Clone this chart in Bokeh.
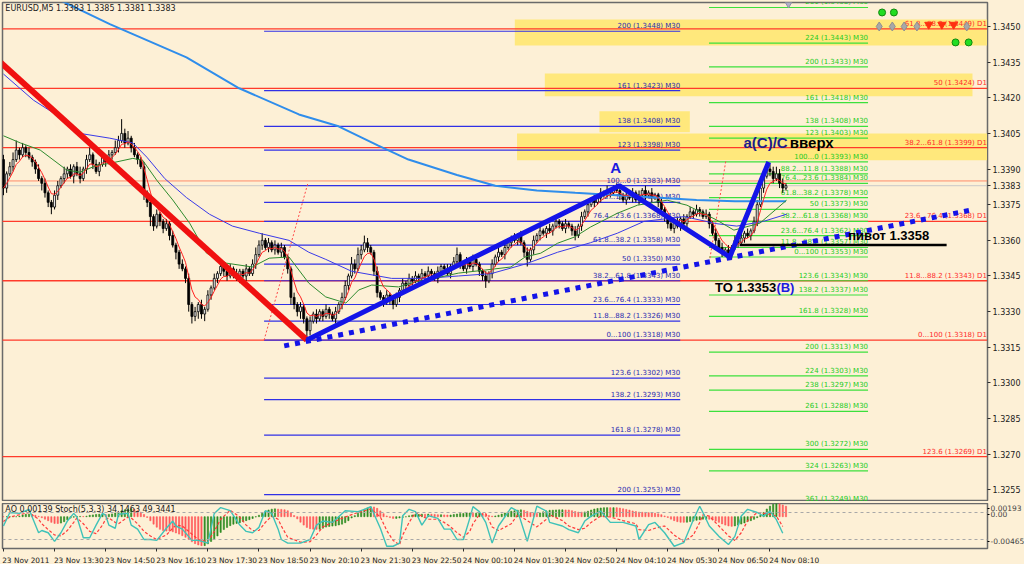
import numpy as np
import pandas as pd
from bokeh.plotting import figure
from bokeh.layouts import column
from bokeh.models import Range1d, FixedTicker, PrintfTickFormatter, Label, Span, ColumnDataSource
from bokeh.embed import file_html
from bokeh.resources import INLINE
from bokeh.core.properties import value

# ---------------- data ----------------
BASE = 1.3300
PIP = 0.0001

first_open_pips = 94
close_pips = [
    82, 88, 91, 94, 98, 96, 99, 97, 95, 93,
    90, 86, 84, 80, 76, 74, 79, 83, 86, 88,
    90, 87, 91, 88, 86, 90, 94, 96, 92, 89,
    92, 95, 93, 96, 97, 99, 102, 105, 101, 103,
    99, 96, 94, 91, 80, 76, 70, 66, 71, 68,
    65, 67, 62, 58, 55, 50, 48, 44, 33, 28,
    30, 33, 29, 31, 37, 40, 44, 46, 49, 47,
    45, 48, 46, 44, 47, 45, 48, 46, 50, 54,
    58, 60, 57, 59, 56, 58, 55, 57, 53, 48,
    36, 33, 30, 32, 27, 22, 26, 29, 27, 30,
    28, 31, 29, 27, 30, 33, 36, 41, 45, 50,
    48, 54, 56, 59, 57, 55, 47, 38, 36, 34,
    37, 35, 33, 36, 39, 42, 41, 44, 43, 45,
    44, 46, 45, 47, 46, 44, 47, 49, 48, 46,
    49, 51, 54, 50, 48, 51, 49, 52, 50, 47,
    45, 43, 46, 50, 53, 55, 54, 57, 59, 61,
    60, 62, 59, 55, 52, 56, 60, 62, 64, 63,
    65, 64, 66, 68, 67, 65, 67, 66, 64, 62,
    66, 70, 72, 75, 77, 76, 78, 80, 79, 81,
    80, 82, 81, 79, 77, 79, 78, 80, 77, 79,
    81, 79, 80, 78, 79, 76, 73, 70, 67, 65,
    68, 66, 69, 67, 70, 72, 71, 73, 72, 70,
    71, 67, 63, 60, 57, 55, 56, 54, 57, 60,
    59, 61, 63, 62, 64, 68, 75, 82, 87, 90,
    89, 86, 88, 84, 82, 83,
]
wick_up = [
    2, 1, 2, 3, 4, 1, 2, 1, 2, 1,
    1, 2, 1, 2, 1, 1, 2, 2, 1, 3,
    1, 2, 1, 2, 3, 1, 2, 3, 1, 2,
    1, 2, 1, 2, 1, 3, 2, 6, 2, 3,
    1, 2, 1, 1, 2, 1, 2, 1, 2, 1,
    1, 2, 1, 2, 1, 1, 2, 1, 2, 1,
    2, 1, 2, 1, 2, 1, 2, 1, 2, 1,
    1, 2, 1, 2, 1, 1, 2, 1, 2, 3,
    2, 3, 1, 2, 1, 2, 1, 2, 1, 1,
    1, 2, 1, 2, 1, 1, 2, 1, 2, 1,
    1, 2, 1, 1, 2, 1, 2, 2, 1, 3,
    2, 3, 2, 3, 2, 1, 1, 2, 1, 1,
    2, 1, 1, 2, 1, 2, 1, 2, 1, 2,
    1, 2, 1, 2, 1, 1, 2, 1, 1, 2,
    1, 2, 3, 1, 1, 2, 1, 2, 1, 1,
    1, 2, 1, 2, 1, 2, 1, 2, 2, 1,
    2, 1, 2, 1, 2, 1, 2, 1, 2, 1,
    1, 2, 1, 2, 1, 1, 2, 1, 1, 2,
    1, 2, 1, 2, 1, 2, 1, 2, 1, 2,
    1, 1, 2, 1, 1, 2, 1, 2, 1, 2,
    1, 2, 1, 2, 1, 1, 2, 1, 1, 2,
    1, 2, 1, 2, 1, 2, 1, 2, 1, 1,
    2, 1, 1, 2, 1, 2, 1, 2, 1, 2,
    1, 2, 1, 2, 1, 2, 2, 3, 2, 3,
    2, 2, 3, 2, 2, 1,
]
wick_dn = [
    3, 2, 1, 2, 1, 2, 1, 2, 1, 2,
    2, 1, 3, 2, 2, 3, 1, 2, 1, 2,
    2, 1, 3, 1, 2, 1, 2, 1, 2, 1,
    2, 1, 2, 1, 2, 1, 2, 1, 2, 1,
    2, 1, 2, 1, 3, 2, 4, 2, 1, 2,
    2, 1, 2, 1, 3, 2, 1, 2, 3, 3,
    2, 3, 2, 3, 1, 2, 1, 2, 1, 2,
    2, 1, 2, 1, 2, 1, 2, 1, 1, 2,
    1, 2, 1, 2, 1, 2, 1, 2, 1, 2,
    3, 2, 2, 3, 2, 4, 2, 1, 2, 1,
    2, 1, 2, 1, 2, 1, 2, 1, 2, 1,
    2, 1, 2, 1, 2, 1, 2, 2, 1, 2,
    1, 2, 2, 1, 2, 1, 2, 1, 2, 1,
    2, 1, 2, 1, 2, 1, 2, 1, 2, 1,
    2, 1, 1, 2, 1, 2, 1, 2, 1, 2,
    2, 3, 1, 2, 1, 2, 1, 2, 1, 2,
    1, 2, 1, 2, 3, 1, 2, 1, 2, 1,
    2, 1, 2, 1, 2, 1, 2, 1, 2, 2,
    1, 2, 1, 2, 1, 2, 1, 2, 1, 1,
    2, 1, 1, 2, 1, 2, 1, 2, 1, 2,
    1, 2, 1, 2, 1, 2, 1, 2, 2, 1,
    2, 1, 2, 1, 2, 1, 2, 1, 2, 1,
    1, 2, 1, 2, 1, 2, 1, 1, 2, 1,
    2, 1, 2, 1, 2, 1, 2, 1, 2, 1,
    2, 2, 1, 2, 2, 1,
]

# moving averages (bar index, pips above BASE)
ma_lblue_bars = [14.7, 33.3, 57.3, 73.8, 92.5, 104.9, 117.2, 126.8, 142, 154, 167, 179, 192, 204, 217, 229, 245]
ma_lblue_pips = [163, 151, 137, 124, 113, 108, 100, 94, 87.5, 83, 81, 80, 79, 78, 77, 76.5, 76.5]
ma_blue_bars = [0, 9.4, 18.7, 24, 33.3, 40.5, 44.9, 50.5, 57.3, 64.5, 71.7, 80.1, 89.4, 95.6, 100.9, 109,
                121.5, 132.1, 142.4, 152.7, 163.3, 173.5, 183.8, 192.2, 200.6, 213.1, 223.4, 229.6, 238, 245.2]
ma_blue_pips = [130, 119, 111, 105, 103, 101, 95, 86, 78, 71, 66, 63, 60, 55, 52, 47,
                44, 44, 45, 46, 50, 55, 59, 63, 68, 70, 67, 66, 68, 71]
ma_green_bars = [0, 5.3, 11.5, 19.9, 24, 29.3, 33.3, 40.5, 43.6, 48, 53, 58.3, 63.6, 69.8, 77.9, 83.2, 89.4,
                 95.6, 100.9, 107.2, 111.2, 115.3, 123.7, 129, 135.2, 142.4, 150.8, 158.9, 163.3, 168.2,
                 173.5, 178.8, 183.8, 192.2, 198.5, 207.8, 214, 223.4, 228.7, 236.8, 245.2]
ma_green_pips = [104, 101, 98, 89.5, 88.7, 91.6, 92.4, 94.5, 93.7, 85.3, 77, 67.2, 54.6, 50.4, 48.8, 52.5, 53,
                 42, 36.2, 33.6, 39.1, 41.2, 40.4, 42.5, 44.1, 46.2, 47.5, 48.8, 53, 54.6,
                 58.8, 61.4, 65.6, 71.4, 74.8, 76.9, 74.8, 68.5, 64.3, 67.2, 76.9]

# stochastic
stoch_bars = [0, 2, 5, 8, 11, 12, 14, 16, 18, 20, 22, 23, 25, 27, 29, 31, 32, 33, 35, 36, 39, 40, 42, 44, 46, 48,
              51, 53, 54, 56, 59, 61, 64, 66, 68, 71, 74, 76, 78, 80, 82, 84, 86, 87, 89, 93, 96, 98, 100, 103,
              107, 111, 113, 115, 118, 120, 122, 124, 125, 127, 129, 131, 133, 136, 138, 140, 142, 144, 146, 147,
              149, 151, 153, 155, 159, 161, 164, 167, 170, 171, 175, 177, 180, 182, 184, 187, 190, 194, 198, 199,
              202, 204, 207, 210, 213, 216, 218, 219, 221, 224, 227, 229, 231, 233, 236, 238, 240, 242, 244]
stoch_main = [50, 80, 78, 87, 35, 40, 35, 16, 35, 61, 78, 70, 24, 24, 52, 78, 74, 52, 45, 76, 78, 52, 43, 20, 20, 18,
              45, 61, 50, 43, 18, 18, 12, 78, 91, 84, 52, 38, 35, 47, 84, 78, 43, 20, 12, 12, 20, 52, 61, 58,
              84, 82, 87, 93, 45, 5, 5, 12, 73, 87, 82, 52, 73, 67, 43, 43, 20, 20, 67, 93,
              82, 58, 12, 50, 91, 83, 16, 94, 83, 58, 50, 42, 35, 61, 72, 83, 58, 58, 50, 20,
              53, 58, 35, 5, 13, 64, 94, 80, 50, 27, 9, 27, 72, 87, 80, 72, 83, 64, 34]
stoch_signal = [60, 70, 75, 80, 65, 55, 42, 30, 28, 40, 58, 68, 55, 38, 33, 52, 65, 68, 58, 55, 70, 68, 55, 38, 28, 20,
                30, 45, 52, 50, 32, 20, 15, 38, 65, 85, 70, 52, 40, 40, 58, 72, 65, 50, 25, 14, 15, 30, 48, 58,
                70, 80, 84, 88, 70, 40, 18, 8, 30, 58, 80, 72, 65, 65, 58, 48, 35, 25, 38, 55,
                75, 78, 48, 40, 55, 75, 62, 48, 65, 75, 62, 50, 42, 45, 58, 72, 70, 62, 55, 42,
                40, 45, 50, 30, 15, 30, 58, 75, 72, 50, 28, 18, 35, 62, 80, 78, 76, 72, 49]

# Fibonacci levels
d1_levels = [1.3449, 1.3424, 1.3399, 1.3368, 1.3343, 1.3318, 1.3269]
d1_labels = ["61.8...88.2 (1.3449) D1", "50 (1.3424) D1", "38.2...61.8 (1.3399) D1", "23.6...76.4 (1.3368) D1",
             "11.8...88.2 (1.3343) D1", "0...100 (1.3318) D1", "123.6 (1.3269) D1"]
blue_levels = [1.3448, 1.3423, 1.3408, 1.3398, 1.3383, 1.3376, 1.3368, 1.3358, 1.3350, 1.3343, 1.3333, 1.3326,
               1.3318, 1.3302, 1.3293, 1.3278, 1.3253]
blue_labels = ["200 (1.3448) M30", "161 (1.3423) M30", "138 (1.3408) M30", "123 (1.3398) M30",
               "100...0 (1.3383) M30", "88.2...11.8 (1.3376) M30", "76.4...23.6 (1.3368) M30",
               "61.8...38.2 (1.3358) M30", "50 (1.3350) M30", "38.2...61.8 (1.3343) M30",
               "23.6...76.4 (1.3333) M30", "11.8...88.2 (1.3326) M30", "0...100 (1.3318) M30",
               "123.6 (1.3302) M30", "138.2 (1.3293) M30", "161.8 (1.3278) M30", "200 (1.3253) M30"]
green_levels = [1.3458, 1.3443, 1.3433, 1.3418, 1.3408, 1.3403, 1.3393, 1.3388, 1.3384, 1.3378, 1.3373, 1.3368,
                1.3362, 1.3357, 1.3353, 1.3343, 1.3337, 1.3328, 1.3313, 1.3303, 1.3297, 1.3288, 1.3272, 1.3263, 1.3249]
green_labels = ["261 (1.3458) M30", "224 (1.3443) M30", "200 (1.3433) M30", "161 (1.3418) M30",
                "138 (1.3408) M30", "123 (1.3403) M30", "100...0 (1.3393) M30", "88.2...11.8 (1.3388) M30",
                "76.4...23.6 (1.3384) M30", "61.8...38.2 (1.3378) M30", "50 (1.3373) M30",
                "38.2...61.8 (1.3368) M30", "23.6...76.4 (1.3362) M30", "11.8...88.2 (1.3357) M30",
                "0...100 (1.3353) M30", "123.6 (1.3343) M30", "138.2 (1.3337) M30", "161.8 (1.3328) M30",
                "200 (1.3313) M30", "224 (1.3303) M30", "238 (1.3297) M30", "261 (1.3288) M30",
                "300 (1.3272) M30", "324 (1.3263) M30", "361 (1.3249) M30"]
blue_span = (81.6, 211.9)
green_span = (220.9, 270.7)

# yellow zones (bar from, bar to, price low, price high)
zone_x0 = [160.1, 169.5, 186.6, 160.8]
zone_x1 = [310.6, 303.4, 214.9, 311.5]
zone_lo = [1.34420, 1.34206, 1.34055, 1.33937]
zone_hi = [1.34529, 1.34302, 1.34143, 1.34050]

# wave drawing points
red_wave_x = [-0.9, 95.0]
red_wave_y = [1.34349, 1.33181]
blue_wave_x = [95.0, 192.8, 227.4, 239.6]
blue_wave_y = [1.33181, 1.3383, 1.3353, 1.3393]
trend_x = [87.9, 302.8]
trend_y = [1.33156, 1.33727]
pivot_x = [230.5, 295.3]
pivot_y = [1.3358, 1.3358]
red_dot1_x = [81.6, 95.3]; red_dot1_y = [1.3318, 1.3384]
red_dot2_x = [221.2, 226.2]; red_dot2_y = [1.33525, 1.33937]

time_tick_bars = [0, 16, 32, 48, 64, 80, 96, 112, 128, 144, 160, 176, 192, 208, 224, 240]
time_labels = ["23 Nov 2011", "23 Nov 13:30", "23 Nov 14:50", "23 Nov 16:10", "23 Nov 17:30", "23 Nov 18:50",
               "23 Nov 20:10", "23 Nov 21:30", "23 Nov 22:50", "24 Nov 00:10", "24 Nov 01:30", "24 Nov 02:50",
               "24 Nov 04:10", "24 Nov 05:30", "24 Nov 06:50", "24 Nov 08:10"]
price_ticks = [1.3255, 1.3270, 1.3285, 1.3300, 1.3315, 1.3330, 1.3345, 1.3360, 1.3375, 1.3390, 1.3405, 1.3420,
               1.3435, 1.3450]
ask_price = 1.3385
bid_price = 1.3383

# ---------------- derived ----------------
BG = "#FDF0D6"
def to_price(p):
    return BASE + np.asarray(p, dtype=float) * PIP

close = to_price(close_pips)
open_ = to_price([first_open_pips] + close_pips[:-1])
high = np.maximum(open_, close) + np.array(wick_up) * PIP
low = np.minimum(open_, close) - np.array(wick_dn) * PIP
bars = np.arange(len(close_pips))
up = close >= open_

ema_fast = pd.Series(close).ewm(span=5, adjust=False).mean().values
median = pd.Series((high + low) / 2)
ao = (median.rolling(5, min_periods=1).mean() - median.rolling(34, min_periods=1).mean()).values
ao_col = ["#2E8B22" if (i > 0 and ao[i] >= ao[i - 1]) else "#FF5A5A" for i in range(len(ao))]

XR = Range1d(-0.3, 308.1)
FW = 985

# ---------------- main chart ----------------
p = figure(frame_width=FW, frame_height=499, x_range=XR, y_range=Range1d(1.32501, 1.34601),
           output_backend="svg", toolbar_location=None, x_axis_location=None, y_axis_location="right",
           background_fill_color=BG, border_fill_color=BG, min_border_left=2, min_border_top=2,
           min_border_bottom=0, min_border_right=0)
p.xgrid.visible = False
p.ygrid.visible = False
p.outline_line_color = "#6A6A6A"
p.outline_line_width = 1.5
ax = p.yaxis[0]
ax.ticker = FixedTicker(ticks=price_ticks + [bid_price])
ax.formatter = PrintfTickFormatter(format="%.4f")
ax.major_label_text_font = "DejaVu Sans"
ax.major_label_text_font_size = "8px"
ax.major_label_text_color = "#202020"
ax.axis_line_color = "#6A6A6A"
ax.major_tick_line_color = "#303030"
ax.major_tick_out = 3
ax.major_tick_in = 0
ax.minor_tick_line_color = None
ax.major_label_standoff = 2

# yellow zones
p.quad(left=zone_x0, right=zone_x1, bottom=zone_lo, top=zone_hi, fill_color="#FFE87C", line_color=None)

# D1 red lines (full width)
p.segment(x0=[-1] * len(d1_levels), x1=[320] * len(d1_levels), y0=d1_levels, y1=d1_levels,
          line_color="#FF3A2A", line_width=1.3)
# bid / ask lines
p.segment(x0=[-1], x1=[320], y0=[ask_price], y1=[ask_price], line_color="#FF8C6A", line_width=1)
p.segment(x0=[-1], x1=[320], y0=[bid_price], y1=[bid_price], line_color="#C8C8C8", line_width=1)

# blue M30 fib
n = len(blue_levels)
p.segment(x0=[blue_span[0]] * n, x1=[blue_span[1]] * n, y0=blue_levels, y1=blue_levels,
          line_color="#3030E6", line_width=1.2)
p.text(x=[blue_span[1]] * n, y=blue_levels, text=blue_labels, text_align="right", text_baseline="bottom",
       y_offset=-1, text_font=value("DejaVu Sans"), text_font_size="7px", text_color="#2A2AB0")
# green M30 fib
n = len(green_levels)
p.segment(x0=[green_span[0]] * n, x1=[green_span[1]] * n, y0=green_levels, y1=green_levels,
          line_color="#3CE03C", line_width=1.2)
p.text(x=[green_span[1]] * n, y=green_levels, text=green_labels, text_align="right", text_baseline="bottom",
       y_offset=-1, text_font=value("DejaVu Sans"), text_font_size="7px", text_color="#22CC22")
# D1 labels
n = len(d1_levels)
p.text(x=[307.9] * n, y=d1_levels, text=d1_labels, text_align="right", text_baseline="bottom",
       y_offset=-1, text_font=value("DejaVu Sans"), text_font_size="7px", text_color="#FF2A2A")

# candles
src = ColumnDataSource(dict(x=bars, h=high, l=low, top=np.maximum(open_, close), bot=np.minimum(open_, close),
                            fill=np.where(up, "#F4F4F4", "#000000")))
p.segment(x0="x", y0="l", x1="x", y1="h", source=src, line_color="#000000", line_width=1)
p.vbar(x="x", bottom="bot", top="top", width=0.62, fill_color="fill", line_color="#000000", line_width=0.8,
       source=src)

# moving averages
p.line(ma_lblue_bars, to_price(ma_lblue_pips), line_color="#2F8DEB", line_width=2)
p.line(ma_blue_bars, to_price(ma_blue_pips), line_color="#3A3AE8", line_width=1)
p.line(ma_green_bars, to_price(ma_green_pips), line_color="#2E8B2E", line_width=1)
p.line(bars, ema_fast, line_color="#FF2020", line_width=1)

# wave / trend drawings
p.line(red_dot1_x, red_dot1_y, line_color="#FF4A4A", line_width=1, line_dash="2 2")
p.line(red_dot2_x, red_dot2_y, line_color="#FF4A4A", line_width=1, line_dash="2 2")
p.line(red_wave_x, red_wave_y, line_color="#F01010", line_width=6)
p.line(blue_wave_x, blue_wave_y, line_color="#1414E8", line_width=5)
p.line(trend_x, trend_y, line_color="#1414E8", line_width=5, line_dash="5 6")
p.line(pivot_x, pivot_y, line_color="#000000", line_width=2.5)

# fractal markers
p.scatter([274.2, 278.3, 282.0, 286.0, 301.6], [1.3450] * 5, marker="diamond", size=9,
          fill_color="#A8A8A8", line_color="#909090")
p.scatter([289.7, 293.8, 297.5], [1.34508] * 3, marker="inverted_triangle", size=8,
          fill_color="#FF3010", line_color="#FF3010")
p.scatter([275.1, 278.8, 298.1, 302.2], [1.34559, 1.34559, 1.34433, 1.34433], marker="circle", size=7,
          fill_color="#22DD22", line_color="#118811")
p.scatter([245.8], [1.34595], marker="inverted_triangle", size=7, fill_color="#B0B0C8", line_color="#9090A8")

# texts
p.text(x=[0.6], y=[1.34595], text=["EURUSD,M5  1.3383 1.3385 1.3381 1.3383"], text_baseline="top",
       text_font=value("DejaVu Sans"), text_font_size="8px", text_color="#202020")
p.text(x=[190.0], y=[1.33870], text=["A"], text_font=value("Liberation Sans"), text_font_size="15px",
       text_font_style="bold", text_color="#1A1AE0")
p.text(x=[231.7], y=[1.34011], text=["a(C)/C"], text_baseline="middle", text_font=value("Liberation Sans"),
       text_font_size="15px", text_font_style="bold", text_color="#1C1C8C")
p.text(x=[246.2], y=[1.34011], text=["вверх"], text_baseline="middle", text_font=value("Liberation Sans"),
       text_font_size="15px", text_font_style="bold", text_color="#000000")
p.text(x=[264.5], y=[1.33588], text=["пивот 1.3358"], text_font=value("Liberation Sans"),
       text_font_size="13px", text_font_style="bold", text_color="#000000")
p.text(x=[222.8], y=[1.33370], text=["TO 1.3353"], text_font=value("Liberation Sans"),
       text_font_size="13px", text_font_style="bold", text_color="#000000")
p.text(x=[242.0], y=[1.33370], text=["(B)"], text_font=value("Liberation Sans"),
       text_font_size="13px", text_font_style="bold", text_color="#1A1AE0")

# current ask price box on the price axis (drawn if the renderer allows annotations outside the frame)
p.add_layout(Label(x=FW + 5, y=ask_price, x_units="screen", y_units="data", text="1.3385",
                   text_font_size="8px", text_color="#FFFFFF", background_fill_color="#FF5A3A",
                   text_baseline="middle", text_font="DejaVu Sans", y_offset=2, level="overlay"))

# ---------------- indicator panel ----------------
q = figure(frame_width=FW, frame_height=45, x_range=XR, y_range=Range1d(0, 100), output_backend="svg",
           toolbar_location=None, y_axis_location="right", background_fill_color=BG, border_fill_color=BG,
           min_border_left=2, min_border_top=0, min_border_bottom=0, min_border_right=0)
q.xgrid.visible = False
q.ygrid.visible = False
q.outline_line_color = "#6A6A6A"
q.outline_line_width = 1.5
q.extra_y_ranges = {"ao": Range1d(-0.00465, 0.00193)}
q.vbar(x=bars, top=ao, bottom=0, width=0.38, fill_color=ao_col, line_color=ao_col, line_width=0.6,
       y_range_name="ao")
q.add_layout(Span(location=80, dimension="width", line_color="#A8A8A8", line_dash="3 3", line_width=1))
q.add_layout(Span(location=20, dimension="width", line_color="#A8A8A8", line_dash="3 3", line_width=1))
q.line(stoch_bars, stoch_signal, line_color="#FF3A3A", line_width=1.2, line_dash="3 2")
q.line(stoch_bars, stoch_main, line_color="#3FC2B8", line_width=1.4)
q.text(x=[0.6], y=[97], text=["AO 0.00139  Stoch(5,3,3) 34.1463 49.3441"], text_baseline="top",
       text_font=value("DejaVu Sans"), text_font_size="8px", text_color="#202020")

qa = q.yaxis[0]
qa.ticker = FixedTicker(ticks=[90, 76, 16])
qa.major_label_overrides = {90: "0.00193", 76: "0.00", 16: "-0.00465"}
qa.major_label_text_font = "DejaVu Sans"
qa.major_label_text_font_size = "7.5px"
qa.axis_line_color = "#6A6A6A"
qa.major_tick_out = 2
qa.major_tick_in = 0
qa.minor_tick_line_color = None
qa.major_label_standoff = 1

xa = q.xaxis[0]
label_centers = [t + 7.6 for t in time_tick_bars]
label_centers[0] = 7.0
xa.ticker = FixedTicker(ticks=label_centers, minor_ticks=time_tick_bars)
xa.major_label_overrides = {c: l for c, l in zip(label_centers, time_labels)}
xa.major_label_text_font = "DejaVu Sans"
xa.major_label_text_font_size = "7.4px"
xa.major_label_text_color = "#202020"
xa.major_tick_line_color = None
xa.minor_tick_line_color = "#303030"
xa.minor_tick_out = 3
xa.minor_tick_in = 0
xa.axis_line_color = "#6A6A6A"
xa.major_label_standoff = 1

layout = column(p, q, spacing=2, styles={"background-color": BG})
open("out.html", "w").write(file_html(layout, INLINE))
